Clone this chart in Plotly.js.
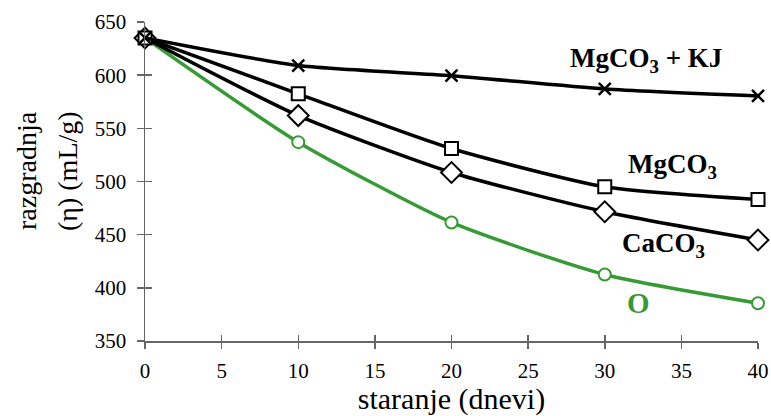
<!DOCTYPE html>
<html>
<head>
<meta charset="utf-8">
<script src="https://cdn.plot.ly/plotly-3.0.1.min.js"></script>
<style>html,body{margin:0;padding:0;background:#fff;}#chart{width:771px;height:416px;}</style>
</head>
<body>
<div id="chart"></div>
<script>
var days = [0, 10, 20, 30, 40];
var mgco3KJ = [635, 609, 599.5, 587, 580.5];
var mgco3 = [635, 582.5, 531, 495, 483];
var caco3 = [635, 562, 508.5, 471.5, 445];
var control = [635, 537, 461.5, 412.5, 385.5];
var xTicks = [0, 5, 10, 15, 20, 25, 30, 35, 40];
var yTicks = [350, 400, 450, 500, 550, 600, 650];
var seriesLabels = ["<b>O</b>", "<b>CaCO<sub>3</sub></b>", "<b>MgCO<sub>3</sub></b>", "<b>MgCO<sub>3</sub> + KJ</b>"];
var xTitle = "staranje (dnevi)";
var yTitleLines = ["razgradnja", "(η) (mL/g)"];

var font = "Liberation Serif";
var green = "#379b35";

function tr(y, color, symbol, size, lw) {
  return {
    x: days, y: y, type: "scatter", mode: "lines+markers", cliponaxis: false,
    line: {color: color, width: 3.5, shape: "spline", smoothing: 0.6},
    marker: {symbol: symbol, size: size, color: symbol === "x-thin" ? color : "#ffffff",
             line: {color: color, width: lw}},
    showlegend: false, hoverinfo: "skip"
  };
}

var data = [
  tr(control, green, "circle", 12, 2),
  tr(caco3, "#000000", "diamond", 16, 2),
  tr(mgco3, "#000000", "square", 13, 2),
  tr(mgco3KJ, "#000000", "x-thin", 12, 2.5)
];

var axisCommon = {
  showgrid: false, zeroline: false, showline: true,
  linecolor: "#666666", linewidth: 1.5,
  tickcolor: "#666666", tickwidth: 1.5
};

var layout = {
  width: 771, height: 416,
  margin: {l: 145, r: 13, t: 22, b: 75},
  paper_bgcolor: "#ffffff", plot_bgcolor: "#ffffff",
  font: {family: font, color: "#000000", size: 22},
  xaxis: Object.assign({}, axisCommon, {
    range: [0, 40], tickvals: xTicks, ticktext: xTicks.map(String),
    ticks: "outside", ticklen: 6, ticklabelstandoff: 4,
    tickfont: {size: 21, family: font, color: "#000"},
    title: {text: xTitle, font: {size: 30, family: font, color: "#000"}, standoff: 3}
  }),
  yaxis: Object.assign({}, axisCommon, {
    range: [350, 650], tickvals: yTicks, ticktext: yTicks.map(String),
    ticks: "outside", ticklen: 7, ticklabelstandoff: 6,
    tickfont: {size: 21, family: font, color: "#000"}
  }),
  xaxis2: Object.assign({}, axisCommon, {
    range: [0, 40], tickvals: xTicks, showticklabels: false,
    ticks: "inside", ticklen: 6, overlaying: "x", anchor: "y2", side: "bottom"
  }),
  yaxis2: Object.assign({}, axisCommon, {
    range: [350, 650], tickvals: yTicks, showticklabels: false,
    ticks: "inside", ticklen: 7, overlaying: "y", anchor: "x2", side: "left"
  }),
  annotations: []
};

// y-axis title as two rotated lines (paper coordinates)
var plotW = 771 - 145 - 13, plotH = 416 - 22 - 75;
[[26, 171], [67, 171]].forEach(function (p, i) {
  layout.annotations.push({
    text: yTitleLines[i], textangle: -90, showarrow: false,
    xref: "paper", yref: "paper", xanchor: "center", yanchor: "middle",
    x: (p[0] - 145) / plotW, y: (416 - 75 - p[1]) / plotH,
    font: {size: 28, family: font, color: "#000"}
  });
});

// series labels in data coordinates
var labelPos = [[32.2, 386], [33.85, 440], [34.4, 515], [32.7, 614.5]];
var labelColors = [green, "#000000", "#000000", "#000000"];
seriesLabels.forEach(function (t, i) {
  layout.annotations.push({
    text: t, xref: "x", yref: "y", x: labelPos[i][0], y: labelPos[i][1],
    showarrow: false, font: {size: i === 0 ? 29 : 27, family: font, color: labelColors[i]}
  });
});

// dummy trace to activate overlay axes
data.push({x: [0], y: [350], xaxis: "x2", yaxis: "y2", mode: "markers",
           marker: {opacity: 0}, showlegend: false, hoverinfo: "skip"});

Plotly.newPlot("chart", data, layout, {displayModeBar: false, staticPlot: true});
</script>
</body>
</html>
